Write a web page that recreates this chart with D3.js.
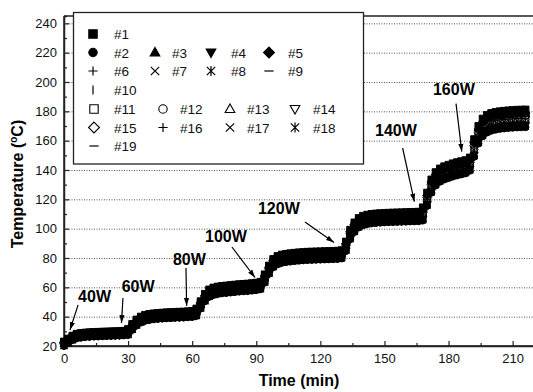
<!DOCTYPE html>
<html>
<head>
<meta charset="utf-8">
<script src="https://cdn.jsdelivr.net/npm/d3@7"></script>
<style>
  body { margin: 0; background: #fff; }
  svg { display: block; font-family: "Liberation Sans", Arial, sans-serif; }
</style>
</head>
<body>
<figure id="chart" style="margin:0"></figure>
<script>
// sample times (min)
const timeMin = [0,2,4,6,8,10,12,14,16,18,20,22,24,26,28,30,32,34,36,38,40,42,44,46,48,50,
  52,54,56,58,60,62,64,66,68,70,72,74,76,78,80,82,84,86,88,90,92,94,96,98,100,102,104,106,
  108,110,112,114,116,118,120,122,124,126,128,130,132,134,136,138,140,142,144,146,148,150,
  152,154,156,158,160,162,164,166,168,170,172,174,176,178,180,182,184,186,188,190,192,194,
  196,198,200,202,204,206,208,210,212,214,216];

// average of the 19 thermocouples (degC)
const meanTemp = [21.5,23.5,25.5,26.8,27.3,27.6,27.8,28.0,28.1,28.2,28.3,28.4,28.5,28.6,28.8,
  29.5,33.0,36.0,38.0,39.2,39.8,40.2,40.5,40.7,40.9,41.0,41.2,41.3,41.4,41.6,41.8,
  43.0,48.0,53.0,56.0,57.3,58.0,58.4,58.7,59.0,59.3,59.6,59.8,60.0,60.3,60.6,61.2,
  66.0,72.0,76.5,78.5,79.5,80.0,80.4,80.7,81.0,81.2,81.4,81.5,81.6,81.7,81.8,81.9,82.0,82.1,82.5,
  88.0,96.0,101.0,104.0,105.5,106.3,106.8,107.1,107.3,107.5,107.6,107.7,107.8,107.9,108.0,108.1,108.2,108.3,
  110.0,120.0,129.0,134.0,136.5,138.0,139.0,140.0,140.8,141.5,142.2,
  144.0,155.0,164.0,169.0,171.5,172.8,173.5,174.0,174.3,174.6,174.8,175.0,175.1,175.2];

// power steps
const powerLabels = ["40W","60W","80W","100W","120W","140W","160W"];
const stageStart = [0, 30, 62, 93, 131, 168, 191];

// deviation of each thermocouple from the mean at each power level (degC)
const offset40W  = [1.5,-1.5,1.2,-1.2,0.9,-0.9,1.4,-1.3,0.3,-0.4,0.6,-0.6,0.2,-0.2,0.4,-0.8,1.0,-1.0,0.0];
const offset60W  = [2.0,-2.0,1.6,-1.6,1.2,-1.2,1.9,-1.7,0.4,-0.5,0.8,-0.8,0.3,-0.3,0.5,-1.1,1.3,-1.3,0.0];
const offset80W  = [2.5,-2.5,2.0,-2.0,1.5,-1.5,2.3,-2.2,0.5,-0.7,1.0,-1.0,0.3,-0.3,0.7,-1.3,1.7,-1.7,0.1];
const offset100W = [2.8,-2.8,2.2,-2.2,1.7,-1.7,2.6,-2.4,0.6,-0.7,1.1,-1.1,0.4,-0.4,0.7,-1.5,1.9,-1.9,0.0];
const offset120W = [3.2,-3.2,2.6,-2.6,1.9,-1.9,3.0,-2.8,0.6,-0.9,1.3,-1.3,0.4,-0.4,0.9,-1.7,2.1,-2.1,0.1];
const offset140W = [4.5,-4.5,3.6,-3.6,2.7,-2.7,4.2,-3.9,0.9,-1.2,1.8,-1.8,0.6,-0.6,1.2,-2.4,3.0,-3.0,0.0];
const offset160W = [6.0,-6.0,4.8,-4.8,3.6,-3.6,5.6,-5.2,1.2,-1.6,2.4,-2.4,0.8,-0.8,1.6,-3.2,4.0,-4.0,0.1];
const sensorOffsets = [offset40W, offset60W, offset80W, offset100W, offset120W, offset140W, offset160W];

const seriesNames = d3.range(1, 20).map(i => "#" + i);
const markerKinds = ["square","circle","triUp","triDown","diamond","plus","times","asterisk","hbar","vbar",
  "square","circle","triUp","triDown","diamond","plus","times","asterisk","hbar"];
const markerFill = ["solid","solid","solid","solid","solid","line","line","line","line","line",
  "open","open","open","open","open","line","line","line","line"];

const xTicks = [0,30,60,90,120,150,180,210];
const yTicks = [20,40,60,80,100,120,140,160,180,200,220,240];

// arrow annotations: [label, text anchor (t,T), arrow tail (t,T), arrow tip (t,T)]
const notes = [
  ["40W",  [6.6, 50.0],   [6.6, 48.0],   [2.8, 30.9]],
  ["60W",  [27.0, 56.8],  [27.6, 52.7],  [26.9, 35.7]],
  ["80W",  [51.0, 75.2],  [57.1, 73.2],  [57.4, 47.3]],
  ["100W", [66.0, 90.9],  [78.6, 87.5],  [89.4, 66.7]],
  ["120W", [90.8, 110.0], [112.8, 104.5],[126.4, 90.6]],
  ["140W", [145.6, 163.2],[158.5, 155.0],[164.0, 118.4]],
  ["160W", [172.7, 191.1],[183.5, 185.3],[186.2, 152.5]]
];

const W = 533, H = 392;
const mLeft = 64, mRight = 534, mTop = 16, mBottom = 346;

const svg = d3.select("#chart").append("svg")
  .attr("width", W).attr("height", H);

const x = d3.scaleLinear().domain([0, 220]).range([mLeft, mRight]);
const y = d3.scaleLinear().domain([20, 245]).range([mBottom, mTop]);

// dotted grid
svg.append("g").selectAll("line")
  .data(yTicks.filter(v => v > 20))
  .enter().append("line")
  .attr("x1", mLeft).attr("x2", W)
  .attr("y1", d => y(d) + 0.5).attr("y2", d => y(d) + 0.5)
  .attr("stroke", "#555").attr("stroke-width", 1)
  .attr("stroke-dasharray", "1,1.5");

// frame top line
svg.append("line")
  .attr("x1", mLeft).attr("x2", W).attr("y1", mTop).attr("y2", mTop)
  .attr("stroke", "#222").attr("stroke-width", 1.5);

// axes
const yAxis = svg.append("g").attr("transform", `translate(${mLeft},0)`)
  .call(d3.axisLeft(y).tickValues(yTicks).tickSize(-5).tickPadding(7));
svg.append("g").attr("transform", `translate(${mLeft},0)`)
  .call(d3.axisLeft(y).tickValues(d3.range(30, 245, 20)).tickSize(-3).tickFormat(""));
const xAxis = svg.append("g").attr("transform", `translate(0,${mBottom})`)
  .call(d3.axisBottom(x).tickValues(xTicks).tickSize(-5).tickPadding(8));
svg.append("g").attr("transform", `translate(0,${mBottom})`)
  .call(d3.axisBottom(x).tickValues(d3.range(15, 220, 30)).tickSize(-3).tickFormat(""));

svg.selectAll(".domain").attr("stroke", "#222").attr("stroke-width", 1.5);
xAxis.select(".domain").attr("stroke", "#444").attr("stroke-width", 2)
  .attr("d", `M${mLeft},0H${W}`);
yAxis.select(".domain").attr("d", `M0,${mTop}V${mBottom}`);
svg.selectAll(".tick line").attr("stroke", "#222").attr("stroke-width", 1.2);
svg.selectAll(".tick text").attr("font-size", 13).attr("fill", "#111")
  .attr("font-family", "Liberation Sans, Arial, sans-serif");

// axis titles
svg.append("text")
  .attr("x", 299).attr("y", 386)
  .attr("text-anchor", "middle").attr("font-size", 16).attr("font-weight", "bold")
  .text("Time (min)");
const yt = svg.append("text")
  .attr("transform", "translate(23,184) rotate(-90)")
  .attr("text-anchor", "middle").attr("font-size", 16).attr("font-weight", "bold");
yt.append("tspan").text("Temperature (");
yt.append("tspan").attr("font-size", 10).attr("dy", -6).text("o");
yt.append("tspan").attr("dy", 6).text("C)");

// marker shapes
function markerPath(kind, r) {
  switch (kind) {
    case "square": return `M${-r},${-r}h${2*r}v${2*r}h${-2*r}Z`;
    case "circle": return `M${r},0A${r},${r} 0 1 1 ${-r},0A${r},${r} 0 1 1 ${r},0Z`;
    case "triUp": return `M0,${-r*1.2}L${r*1.15},${r*0.85}L${-r*1.15},${r*0.85}Z`;
    case "triDown": return `M0,${r*1.2}L${r*1.15},${-r*0.85}L${-r*1.15},${-r*0.85}Z`;
    case "diamond": return `M0,${-r*1.3}L${r*1.3},0L0,${r*1.3}L${-r*1.3},0Z`;
    case "plus": return `M${-r*1.1},0H${r*1.1}M0,${-r*1.1}V${r*1.1}`;
    case "times": return `M${-r},${-r}L${r},${r}M${-r},${r}L${r},${-r}`;
    case "asterisk": return `M${-r},${-r}L${r},${r}M${-r},${r}L${r},${-r}M0,${-r*1.2}V${r*1.2}`;
    case "hbar": return `M${-r*1.1},0H${r*1.1}`;
    case "vbar": return `M0,${-r*1.1}V${r*1.1}`;
  }
}
function styleMarker(sel, i) {
  const f = markerFill[i];
  sel.attr("fill", f === "solid" ? "#000" : f === "open" ? "#fff" : "none")
    .attr("stroke", "#000")
    .attr("stroke-width", f === "line" ? 1.1 : 0.9);
}

// series
const stageOf = t => d3.bisectRight(stageStart, t) - 1;
const series = seriesNames.map((name, i) => ({
  name, i,
  values: timeMin.map((t, k) => ({ t, v: meanTemp[k] + sensorOffsets[stageOf(t)][i] }))
}));

const line = d3.line().x(d => x(d.t)).y(d => y(d.v));
const plot = svg.append("g");
series.forEach(s => {
  plot.append("path").datum(s.values)
    .attr("d", line).attr("fill", "none").attr("stroke", "#000").attr("stroke-width", 1);
});
// open symbols underneath, so the filled and line symbols cover most of them
const drawOrder = series.slice().sort((a, b) =>
  (markerFill[b.i] === "open") - (markerFill[a.i] === "open"));
drawOrder.forEach(s => {
  plot.append("g").selectAll("path")
    .data(s.values).enter().append("path")
    .attr("transform", d => `translate(${x(d.t)},${y(d.v)})`)
    .attr("d", markerPath(markerKinds[s.i], 3.5))
    .call(styleMarker, s.i);
});

// annotations
const defs = svg.append("defs");
defs.append("marker").attr("id", "arrow")
  .attr("viewBox", "0 0 10 10").attr("refX", 10).attr("refY", 5)
  .attr("markerWidth", 8).attr("markerHeight", 8).attr("markerUnits", "userSpaceOnUse")
  .attr("orient", "auto")
  .append("path").attr("d", "M0,1.8L10,5L0,8.2Z").attr("fill", "#000");

notes.forEach(([label, tp, from, to]) => {
  svg.append("line")
    .attr("x1", x(from[0])).attr("y1", y(from[1]))
    .attr("x2", x(to[0])).attr("y2", y(to[1]))
    .attr("stroke", "#000").attr("stroke-width", 1.2)
    .attr("marker-end", "url(#arrow)");
  svg.append("text")
    .attr("x", x(tp[0])).attr("y", y(tp[1]))
    .attr("font-size", 16).attr("font-weight", "bold")
    .text(label);
});

// legend
const legend = svg.append("g");
legend.append("rect")
  .attr("x", 73.5).attr("y", 12.5).attr("width", 290).attr("height", 151.5)
  .attr("fill", "#fff").attr("stroke", "#222").attr("stroke-width", 1.3);

const legendRows = [[0], [1, 2, 3, 4], [5, 6, 7, 8], [9], [10, 11, 12, 13], [14, 15, 16, 17], [18]];
const rowY = [34, 52.5, 71, 90, 109, 127.5, 146];
const symXNarrow = [93, 155, 211, 269], txtXNarrow = [114, 172, 231, 288];
const symXWide = [94, 163, 230, 295], txtXWide = [114, 180, 247, 313];

legendRows.forEach((row, r) => {
  const wide = r >= 4;
  row.forEach((i, c) => {
    const sx = (wide ? symXWide : symXNarrow)[c];
    const tx = (wide ? txtXWide : txtXNarrow)[c];
    legend.append("path")
      .attr("transform", `translate(${sx},${rowY[r]})`)
      .attr("d", markerPath(markerKinds[i], 4.2))
      .call(styleMarker, i)
      .attr("stroke-width", markerFill[i] === "line" ? 1.2 : 1.1);
    legend.append("text")
      .attr("x", tx).attr("y", rowY[r] + 5)
      .attr("font-size", 13.5).attr("fill", "#111")
      .text(seriesNames[i]);
  });
});
</script>
</body>
</html>
